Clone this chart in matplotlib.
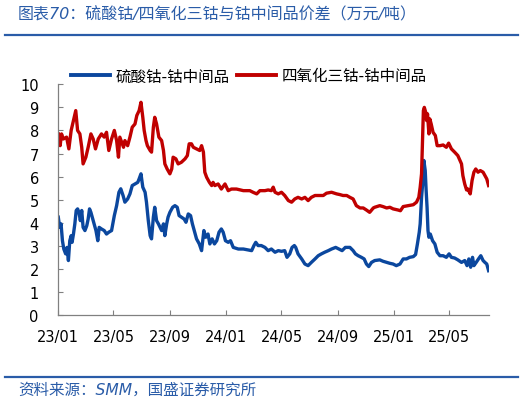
import matplotlib
matplotlib.use("Agg")
import matplotlib.pyplot as plt
import matplotlib.dates as mdates
from matplotlib.lines import Line2D
import pandas as pd

plt.rcParams['font.family'] = ['DejaVu Sans', 'Noto Sans CJK SC']

# ---- data (days since 2023-01-01, values in 万元/吨) ----
start_date = "2023-01-01"
red_days = [0, 4, 7, 11, 18, 23, 28, 33, 38, 42, 47, 51, 54, 60, 65, 71, 76, 81, 87, 94, 100, 105, 110, 116,
            122, 127, 131, 134, 138, 142, 145, 151, 156, 161, 167, 171, 176, 180, 184, 187, 191, 194, 200,
            203, 207, 210, 214, 219,
            225, 229, 232, 237, 243, 247, 250, 256, 261, 268, 276, 281, 285, 290, 294, 301, 308, 312, 316,
            319, 323, 329, 334, 337, 341, 348, 355, 363, 370, 377, 388, 403, 417, 424, 432, 439,
            450, 457, 464, 468, 472, 479, 486, 493, 501, 508, 515, 522, 530, 537, 544, 551, 559, 566, 577,
            584, 595, 606, 613, 620, 628, 635, 642, 649, 657, 664, 671, 678, 686, 689,
            700, 707, 715, 722, 729, 740, 745, 751, 762, 773, 780, 785, 788, 791, 793, 795, 797, 800, 802,
            804, 807, 809, 812, 816, 821, 825, 831, 838, 845, 850, 856, 863, 870, 878, 881, 885, 889, 892,
            897, 901, 905, 909, 914, 919, 925, 929, 933, 937]
red_vals = [7.85, 7.34, 7.85, 7.63, 7.71, 7.2, 8.0, 8.43, 8.86, 8.0, 7.85, 7.27, 6.55, 6.84, 7.27, 7.85, 7.63,
            7.2, 7.63, 7.85, 7.71, 7.92, 7.13, 7.63, 8.0, 7.56, 6.84, 7.71, 7.49, 7.27, 7.56, 7.34, 7.71,
            8.14, 8.28, 8.65, 8.86, 9.22, 8.57, 8.0, 7.56, 7.34, 7.13, 7.06, 8.14, 8.57, 8.28, 7.71,
            7.56, 7.13, 6.55, 6.33, 6.12, 6.33, 6.84, 6.77, 6.55, 6.62, 6.77, 6.91, 7.42, 7.42, 7.27, 7.2,
            7.13, 7.34, 7.06, 6.19, 5.97, 5.75, 5.61, 5.75, 5.61, 5.68, 5.46, 5.68, 5.39, 5.46, 5.46, 5.39,
            5.39, 5.32, 5.25, 5.39,
            5.39, 5.42, 5.39, 5.54, 5.32, 5.25, 5.32, 5.18, 4.96, 4.89, 5.03, 5.1, 5.03, 5.1, 4.96, 5.1,
            5.18, 5.18, 5.18, 5.28, 5.32, 5.25, 5.22, 5.18, 5.18, 5.1, 5.03, 4.74, 4.64, 4.64, 4.55, 4.45,
            4.64, 4.67,
            4.74, 4.7, 4.64, 4.67, 4.6, 4.55, 4.52, 4.7, 4.74, 4.78, 4.89, 5.1, 5.54, 6.12, 7.42, 8.86, 9.0,
            8.79, 8.43, 8.72, 7.85, 8.5, 8.28, 7.92, 7.78, 7.34, 7.34, 7.37, 7.27, 7.45, 7.2, 7.06, 6.91,
            6.55, 6.04, 5.68, 5.42, 5.46, 5.25, 5.83, 6.19, 6.33, 6.19, 6.26, 6.19, 6.04, 5.9, 5.61]

blue_days = [0, 3, 6, 9, 12, 16, 19, 22, 25, 28, 30, 33, 36, 39, 42, 45, 48, 51, 54, 58, 62, 65, 68, 71, 75,
             78, 82, 86, 89, 94, 100, 105, 110, 116, 122, 127, 132, 136, 141, 145, 151, 156, 161, 167, 173,
             176, 180, 184, 189, 192, 196, 200, 203, 207, 210, 214, 218,
             225, 229, 232, 236, 239, 243, 249, 254, 259, 263, 268, 274, 278, 283, 288, 292, 296, 301, 307,
             312, 317, 321, 326, 330, 335, 340, 345, 350, 355, 359, 364, 370, 375, 381, 392, 403, 414, 421,
             426, 430, 435, 442,
             450, 457, 464, 472, 479, 486, 493, 498, 504, 509, 514, 517, 522, 530, 537, 544, 551, 559, 566,
             573, 580, 588, 595, 604, 611, 618, 625, 635, 642, 647, 653, 660, 666, 671, 676, 682, 689,
             700, 707, 715, 722, 729, 736, 744, 751, 758, 765, 773, 778, 782, 786, 788, 791, 794, 796, 799,
             801, 803, 805, 807, 810, 815, 820, 825, 831, 838, 845, 851, 856, 863, 870, 878, 885, 890, 894,
             898, 902, 905, 910, 915, 920, 925, 929, 933, 937]
blue_vals = [4.24, 3.8, 3.95, 3.22, 2.86, 2.65, 2.93, 2.36, 3.22, 3.44, 3.15, 3.51, 3.95, 4.53, 4.6, 4.45,
             4.09, 4.53, 3.8, 3.66, 3.87, 4.16, 4.6, 4.45, 4.16, 3.95, 3.66, 3.22, 3.8, 3.73, 3.66, 3.51,
             3.59, 3.66, 4.31, 4.74, 5.32, 5.47, 5.18, 4.89, 5.03, 5.25, 5.61, 5.68, 5.75, 5.9, 6.12, 5.54,
             5.32, 4.89, 4.09, 3.44, 3.3, 4.24, 4.67, 4.09, 3.95,
             3.66, 3.95, 3.44, 3.95, 4.24, 4.45, 4.67, 4.74, 4.67, 4.31, 4.24, 4.16, 4.02, 4.38, 4.31, 3.95,
             3.66, 3.3, 3.08, 2.79, 3.66, 3.37, 3.51, 3.08, 3.3, 3.08, 3.22, 3.59, 3.73, 3.59, 3.22, 3.15,
             3.22, 2.93, 2.86, 2.86, 2.82, 2.79, 3.01, 3.15, 3.01, 3.01,
             2.93, 2.79, 2.86, 2.72, 2.79, 2.76, 2.79, 2.5, 2.65, 2.93, 3.01, 2.93, 2.65, 2.43, 2.21, 2.14,
             2.28, 2.43, 2.57, 2.65, 2.72, 2.79, 2.86, 2.93, 2.86, 2.79, 2.93, 2.93, 2.79, 2.65, 2.57, 2.5,
             2.43, 2.21, 2.1, 2.28, 2.36,
             2.39, 2.33, 2.28, 2.24, 2.21, 2.14, 2.21, 2.43, 2.43, 2.5, 2.53, 2.62, 3.08, 3.59, 3.95, 5.1,
             5.83, 6.7, 6.26, 5.39, 4.67, 3.66, 3.37, 3.51, 3.22, 3.08, 2.72, 2.57, 2.57, 2.5, 2.65, 2.5,
             2.47, 2.39, 2.28, 2.36, 2.14, 2.43, 2.07, 2.5, 2.14, 2.28, 2.43, 2.57, 2.36, 2.28, 2.21, 1.92]

series_labels = ["硫酸钴-钴中间品", "四氧化三钴-钴中间品"]
tick_dates = ["2023-01-01", "2023-05-01", "2023-09-01", "2024-01-01", "2024-05-01",
              "2024-09-01", "2025-01-01", "2025-05-01"]
y_ticks = [0, 1, 2, 3, 4, 5, 6, 7, 8, 9, 10]
title_text = "图表70：硫酸钴/四氧化三钴与钴中间品价差（万元/吨）"
source_text = "资料来源：SMM，国盛证券研究所"

BLUE = "#0B479E"
RED = "#C00000"
HEAD = "#2A5CA8"

base = pd.Timestamp(start_date)
red_x = base + pd.to_timedelta(red_days, unit="D")
blue_x = base + pd.to_timedelta(blue_days, unit="D")

W, H = 525, 402
fig = plt.figure(figsize=(W / 100, H / 100), dpi=100)
ax = fig.add_axes([58.3 / W, 1 - 316 / H, (488.6 - 58.3) / W, (316 - 85.3) / H])

ax.plot(blue_x, blue_vals, color=BLUE, lw=2.4, solid_joinstyle="round")
ax.plot(red_x, red_vals, color=RED, lw=2.4, solid_joinstyle="round")

ax.set_ylim(0, 10)
ax.set_yticks(y_ticks)
ax.set_xlim(base, base + pd.Timedelta(days=red_days[-1]))
ax.set_xticks(pd.to_datetime(tick_dates))
ax.xaxis.set_major_formatter(mdates.DateFormatter("%y/%m"))

for s in ["top", "right"]:
    ax.spines[s].set_visible(False)
for s in ["left", "bottom"]:
    ax.spines[s].set_color("#808080")
    ax.spines[s].set_linewidth(0.9)
ax.tick_params(axis="both", direction="in", colors="#808080", labelcolor="black", labelsize=10.5,
               length=3.5, width=0.8)
ax.tick_params(axis="y", pad=14)
ax.tick_params(axis="x", pad=10)

handles = [Line2D([], [], color=BLUE, lw=2.8), Line2D([], [], color=RED, lw=2.8)]
fig.legend(handles, series_labels, loc="center left", bbox_to_anchor=(71 / W, 1 - 77 / H),
           ncol=2, frameon=False, fontsize=11.2, handlelength=2.5, handletextpad=0.35,
           columnspacing=0.5, borderpad=0, borderaxespad=0)

fig.text(18 / W, 1 - 15 / H, title_text, color=HEAD, fontsize=11.5, va="center", ha="left",
         style="italic")
fig.add_artist(Line2D([5 / W, 518 / W], [1 - 36 / H, 1 - 36 / H], color=HEAD, lw=1.6))
fig.add_artist(Line2D([5 / W, 518 / W], [1 - 378 / H, 1 - 378 / H], color=HEAD, lw=1.6))
fig.text(18 / W, 1 - 390 / H, source_text, color=HEAD, fontsize=11.2, va="center", ha="left",
         style="italic")

fig.savefig("out.png", dpi=100)
